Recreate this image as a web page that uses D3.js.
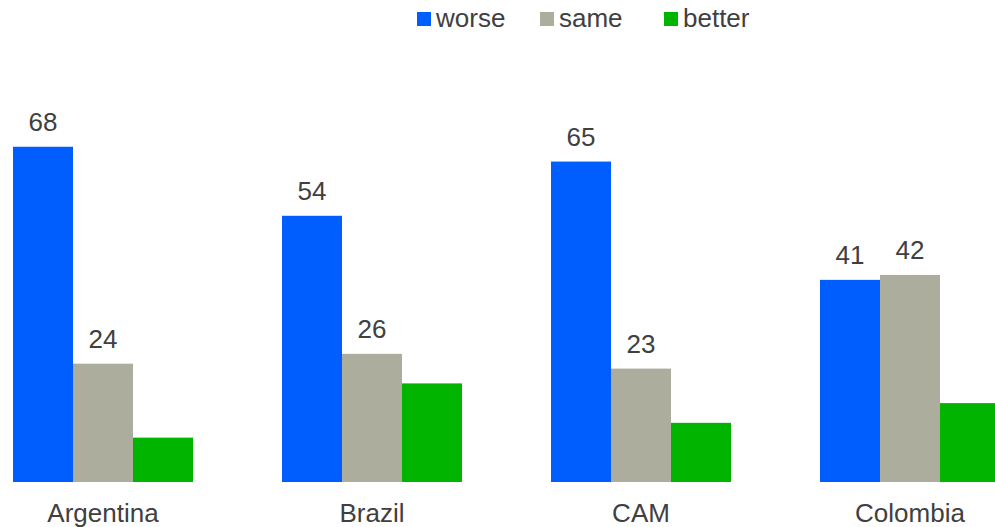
<!DOCTYPE html>
<html>
<head>
<meta charset="utf-8">
<script src="https://cdn.jsdelivr.net/npm/d3@7"></script>
<style>
    body { margin: 0; background: #ffffff; }
    svg text { font-family: "Liberation Sans", Arial, sans-serif; fill: #404040; }
</style>
</head>
<body>
<svg id="chart" width="995" height="527"></svg>
<script>
// chart values
const categories = ["Argentina", "Brazil", "CAM", "Colombia"];
const seriesNames = ["worse", "same", "better"];
const worse = [68, 54, 65, 41];
const same = [24, 26, 23, 42];
const better = [9, 20, 12, 16];
// only these series carry a value label in the original
const labelled = ["worse", "same"];

const colors = { worse: "#005eff", same: "#adad9e", better: "#00b400" };

const svg = d3.select("#chart");
const width = 995, height = 527;
const baseline = 482;

const values = { worse: worse, same: same, better: better };

// groups: 180px wide, 269px step
let x0 = d3.scaleBand()
    .domain(categories)
    .range([13, 1000])
    .paddingInner(89 / 269)
    .paddingOuter(0);

let x1 = d3.scaleBand()
    .domain(seriesNames)
    .range([0, x0.bandwidth()]);

let y = d3.scaleLinear()
    .domain([0, 80])
    .range([baseline, baseline - 80 * 4.93]);

let rows = categories.map(function (c, i) {
    return seriesNames.map(function (s) {
        return { cat: c, series: s, value: values[s][i] };
    });
});

let groups = svg.append("g").selectAll("g")
    .data(rows)
    .enter()
    .append("g")
    .attr("transform", (d, i) => "translate(" + x0(categories[i]) + ",0)");

groups.selectAll("rect")
    .data(d => d)
    .enter()
    .append("rect")
    .attr("x", d => x1(d.series))
    .attr("y", d => y(d.value))
    .attr("width", x1.bandwidth())
    .attr("height", d => y(0) - y(d.value))
    .attr("fill", d => colors[d.series]);

groups.selectAll("text.val")
    .data(d => d.filter(e => labelled.includes(e.series)))
    .enter()
    .append("text")
    .attr("class", "val")
    .attr("x", d => x1(d.series) + x1.bandwidth() / 2)
    .attr("y", d => y(d.value) - 16)
    .attr("text-anchor", "middle")
    .style("font-size", "26px")
    .text(d => d.value);

// category labels
svg.append("g").selectAll("text")
    .data(categories)
    .enter()
    .append("text")
    .attr("x", d => x0(d) + x0.bandwidth() / 2)
    .attr("y", 522)
    .attr("text-anchor", "middle")
    .style("font-size", "26px")
    .text(d => d);

// legend
let legendX = [417, 540, 664];
let legend = svg.append("g").selectAll("g")
    .data(seriesNames)
    .enter()
    .append("g")
    .attr("transform", (d, i) => "translate(" + legendX[i] + ",12)");

legend.append("rect")
    .attr("width", 14)
    .attr("height", 14)
    .attr("fill", d => colors[d]);

legend.append("text")
    .attr("x", 19)
    .attr("y", 15)
    .style("font-size", "26px")
    .text(d => d);
</script>
</body>
</html>
